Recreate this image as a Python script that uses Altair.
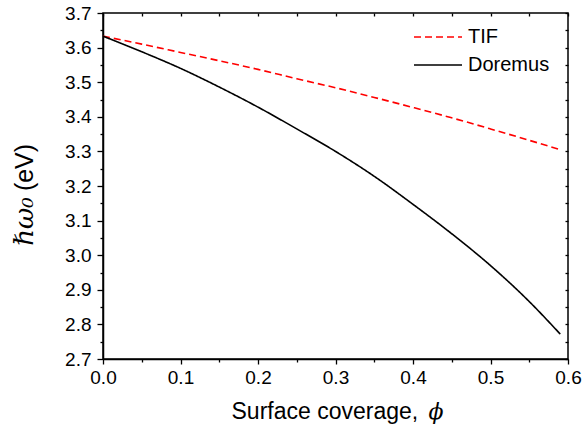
import altair as alt
import pandas as pd

phi = [0.0, 0.05, 0.1, 0.15, 0.2, 0.25, 0.3, 0.35, 0.4, 0.45, 0.5, 0.55, 0.59]
tif = [3.633, 3.610, 3.586, 3.562, 3.537, 3.510, 3.484, 3.456, 3.427, 3.397, 3.365, 3.332, 3.305]
doremus = [3.633, 3.588, 3.540, 3.486, 3.428, 3.365, 3.300, 3.228, 3.147, 3.062, 2.970, 2.866, 2.772]
series = ["TIF", "Doremus"]
series_colors = ["#ff0000", "#000000"]

x_major = [0.0, 0.1, 0.2, 0.3, 0.4, 0.5, 0.6]
x_minor = [0.05, 0.15, 0.25, 0.35, 0.45, 0.55]
x_all = [0.0, 0.05, 0.1, 0.15, 0.2, 0.25, 0.3, 0.35, 0.4, 0.45, 0.5, 0.55, 0.6]
y_major = [2.7, 2.8, 2.9, 3.0, 3.1, 3.2, 3.3, 3.4, 3.5, 3.6, 3.7]
y_minor = [2.75, 2.85, 2.95, 3.05, 3.15, 3.25, 3.35, 3.45, 3.55, 3.65]
y_all = [2.7, 2.75, 2.8, 2.85, 2.9, 2.95, 3.0, 3.05, 3.1, 3.15, 3.2, 3.25, 3.3,
         3.35, 3.4, 3.45, 3.5, 3.55, 3.6, 3.65, 3.7]

rows = []
for name, vals in zip(series, [tif, doremus]):
    for p, v in zip(phi, vals):
        rows.append({"phi": p, "value": v, "model": name})
df = pd.DataFrame(rows)

FONT = "Liberation Sans"
SERIF = "DejaVu Serif"
xs = alt.Scale(domain=[0, 0.6], nice=False, zero=False)
ys = alt.Scale(domain=[2.7, 3.7], nice=False, zero=False)

common = dict(grid=False, domainColor="black", tickColor="black", labelColor="black",
              titleColor="black", tickWidth=1.3, domainWidth=1.5,
              labelFlush=False, labelOverlap=False)

def make_legend():
    return alt.Legend(title=None, orient="none", legendX=310, legendY=11,
                      symbolType="stroke", symbolSize=2304, clipHeight=26,
                      symbolStrokeWidth=1.5, labelFontSize=20,
                      labelFont=FONT, labelColor="black",
                      labelOffset=5, rowPadding=2)

color = alt.Color("model:N", scale=alt.Scale(domain=series, range=series_colors),
                  legend=make_legend())
dash = alt.StrokeDash("model:N", scale=alt.Scale(domain=series, range=[[7, 4], [1, 0]]),
                      legend=make_legend())

main = alt.Chart(df).mark_line(strokeWidth=1.6, interpolate="monotone").encode(
    x=alt.X("phi:Q", scale=xs, axis=alt.Axis(
        values=x_major, format=".1f", tickSize=5, labelFontSize=19, labelFont=FONT,
        labelPadding=4, title="Surface coverage,", titleFont=FONT, titleFontSize=23,
        titleFontWeight="normal", titleX=128, titleY=59, titleAlign="left",
        titleBaseline="alphabetic", orient="bottom", **common)),
    y=alt.Y("value:Q", scale=ys, axis=alt.Axis(
        values=y_major, format=".1f", tickSize=6, labelFontSize=19, labelFont=FONT,
        labelPadding=6, title="(eV)", titleFont=FONT, titleFontSize=25,
        titleFontWeight="normal", titleX=-71, titleY=154, titleAlign="center",
        titleBaseline="alphabetic", orient="left", **common)),
    color=color,
    strokeDash=dash,
    detail="model:N",
)

minor = alt.Chart(df).mark_line(opacity=0).encode(
    x=alt.X("phi:Q", scale=xs, axis=alt.Axis(
        values=x_minor, labels=False, tickSize=3, domain=False,
        title="ϕ", titleFont=SERIF, titleFontStyle="italic", titleFontSize=22,
        titleFontWeight="normal", titleColor="black", titleX=325, titleY=59,
        titleAlign="left", titleBaseline="alphabetic",
        orient="bottom", grid=False, tickColor="black", tickWidth=1.3)),
    y=alt.Y("value:Q", scale=ys, axis=alt.Axis(
        values=y_minor, labels=False, tickSize=3, domain=False,
        title="ℏω₀", titleFont=SERIF, titleFontStyle="italic", titleFontSize=26,
        titleFontWeight="normal", titleColor="black", titleX=-71, titleY=208,
        titleAlign="center", titleBaseline="alphabetic",
        orient="left", grid=False, tickColor="black", tickWidth=1.3)),
    detail="model:N",
)

mirror = alt.Chart(df).mark_line(opacity=0).encode(
    x=alt.X("phi:Q", scale=xs, axis=alt.Axis(
        values=x_all, labels=False, tickSize=3, offset=-3, domain=False, title=None,
        orient="top", grid=False, tickColor="black", tickWidth=1.3)),
    y=alt.Y("value:Q", scale=ys, axis=alt.Axis(
        values=y_all, labels=False, tickSize=3, offset=-3, domain=False, title=None,
        orient="right", grid=False, tickColor="black", tickWidth=1.3)),
    detail="model:N",
)

chart = alt.layer(main, minor, mirror).resolve_axis(
    x="independent", y="independent"
).properties(
    width=465, height=346,
    autosize=alt.AutoSizeParams(type="none"),
    padding={"left": 103, "top": 13, "right": 15, "bottom": 70},
    background="white",
).configure_view(stroke="black", strokeWidth=1.5)

chart.save("out.html", embed_options={"renderer": "svg", "actions": False})
